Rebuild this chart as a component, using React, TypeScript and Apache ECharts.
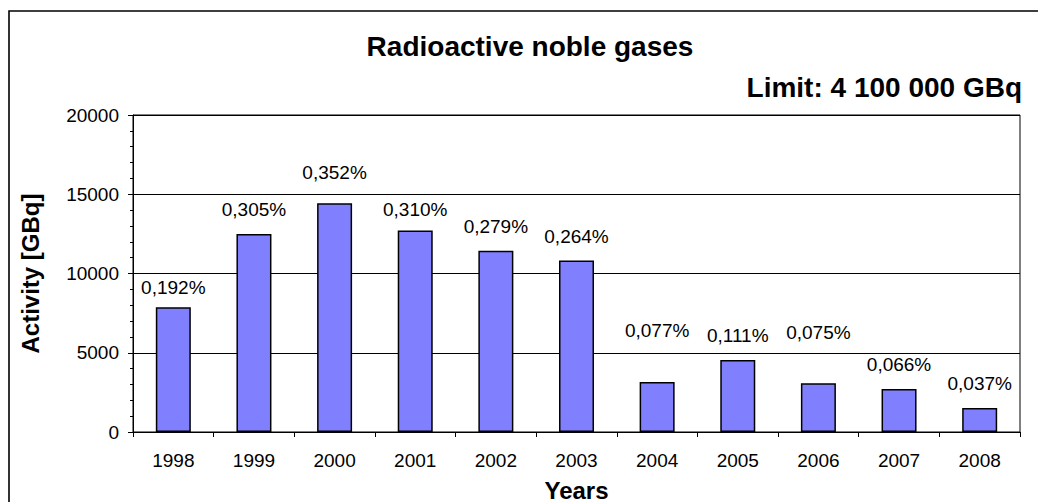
import React, { useEffect, useRef } from "react";
import * as echarts from "echarts";

const years = ["1998", "1999", "2000", "2001", "2002", "2003", "2004", "2005", "2006", "2007", "2008"];
const activity = [7870, 12500, 14430, 12710, 11440, 10820, 3160, 4550, 3080, 2710, 1520];
const shareOfLimit = ["0,192%", "0,305%", "0,352%", "0,310%", "0,279%", "0,264%", "0,077%", "0,111%", "0,075%", "0,066%", "0,037%"];
const yTicks = [0, 5000, 10000, 15000, 20000];

const FONT = "'Liberation Sans', Arial, Helvetica, sans-serif";
// extra label lift for manually placed labels (style only)
const labelDistance: Record<number, number> = { 0: 10, 2: 21, 3: 12, 6: 42, 8: 41 };

export default function App() {
  const ref = useRef<HTMLDivElement>(null);
  useEffect(() => {
    if (!ref.current) return;
    const chart = echarts.init(ref.current, undefined, { renderer: "svg" });
    chart.setOption({
      animation: false,
      backgroundColor: "#fff",
      textStyle: { fontFamily: FONT },
      graphic: [
        {
          type: "rect",
          shape: { x: 9, y: 11, width: 1100, height: 600 },
          style: { fill: "none", stroke: "#000", lineWidth: 1.6 },
          silent: true,
        },
        {
          type: "text",
          x: 530,
          y: 46,
          style: {
            text: "Radioactive noble gases",
            font: `bold 28px ${FONT}`,
            fill: "#000",
            textAlign: "center",
            textVerticalAlign: "middle",
          },
        },
        {
          type: "text",
          x: 1022,
          y: 87,
          style: {
            text: "Limit: 4 100 000 GBq",
            font: `bold 28px ${FONT}`,
            fill: "#000",
            textAlign: "right",
            textVerticalAlign: "middle",
          },
        },
      ],
      grid: {
        left: 133,
        right: 18,
        top: 115,
        bottom: 70,
        outerBoundsMode: "none",
        containLabel: false,
        show: true,
        borderColor: "#000",
        borderWidth: 1,
        backgroundColor: "transparent",
      },
      xAxis: {
        type: "category",
        data: years,
        name: "Years",
        nameLocation: "middle",
        nameGap: 46,
        nameTextStyle: { fontSize: 24, fontWeight: "bold", color: "#000", fontFamily: FONT },
        axisLine: { lineStyle: { color: "#000", width: 1 } },
        axisTick: { show: true, length: 5, lineStyle: { color: "#000" } },
        axisLabel: { color: "#000", fontSize: 19, margin: 19, fontFamily: FONT },
      },
      yAxis: {
        type: "value",
        min: yTicks[0],
        max: yTicks[yTicks.length - 1],
        interval: 5000,
        name: "Activity [GBq]",
        nameLocation: "middle",
        nameRotate: 90,
        nameGap: 91,
        nameTextStyle: { fontSize: 24, fontWeight: "bold", color: "#000", fontFamily: FONT },
        axisLine: { show: true, lineStyle: { color: "#000", width: 1 } },
        axisTick: { show: true, length: 5, lineStyle: { color: "#000" } },
        minorTick: { show: true, splitNumber: 5, length: 3, lineStyle: { color: "#000" } },
        axisLabel: {
          color: "#000",
          fontSize: 19,
          margin: 14,
          fontFamily: FONT,
          formatter: (v: number) => String(v),
        },
        splitLine: { show: true, lineStyle: { color: "#000", width: 1 } },
      },
      series: [
        {
          type: "bar",
          barWidth: 35,
          data: activity.map((v, i) => ({
            value: v,
            label: labelDistance[i] !== undefined ? { distance: labelDistance[i] } : undefined,
          })),
          itemStyle: { color: "#8080FF", borderColor: "#000", borderWidth: 1.5 },
          label: {
            show: true,
            position: "top",
            distance: 15,
            color: "#000",
            fontSize: 19,
            fontFamily: FONT,
            formatter: (p: any) => shareOfLimit[p.dataIndex],
          },
        },
      ],
    });
    return () => chart.dispose();
  }, []);
  return (
    <div
      ref={ref}
      style={{ position: "absolute", left: 0, top: 0, width: 1038, height: 502 }}
    />
  );
}
